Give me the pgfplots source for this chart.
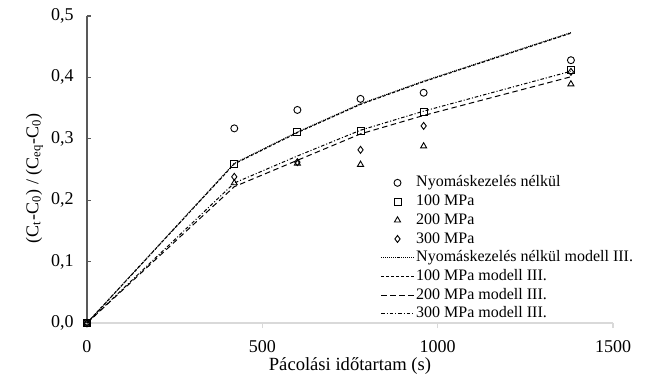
\documentclass[border=0pt]{standalone}
\usepackage{fontspec}
\setmainfont{Liberation Serif}
\usepackage{pgfplots}
\pgfplotsset{compat=1.18}
\definecolor{yax}{HTML}{595959}
\definecolor{xax}{HTML}{D9D9D9}
\begin{document}
\fontsize{9bp}{11bp}\selectfont
\begin{tikzpicture}[font=\fontsize{9bp}{11bp}\selectfont]
\begin{axis}[
  scale only axis,
  width=263bp, height=153.5bp,
  xmin=0, xmax=1500, ymin=0, ymax=0.5,
  axis x line*=bottom, axis y line*=left,
  x axis line style={draw=xax, line width=0.6bp},
  y axis line style={draw=yax, line width=0.6bp},
  xtick={0,500,1000,1500},
  ytick={0,0.1,0.2,0.3,0.4,0.5},
  xtick style={draw=xax, line width=0.6bp},
  ytick style={draw=yax, line width=0.6bp},
  x tick style={/pgfplots/major tick length=2.5bp},
  y tick style={/pgfplots/major tick length=2bp},
  xtick align=outside, ytick align=inside,
  minor tick num=0,
  /pgf/number format/assume math mode=true,
  /pgf/number format/1000 sep={},
  yticklabel style={xshift=-3.5bp, /pgf/number format/.cd, use comma, fixed, fixed zerofill, precision=1},
  xticklabel style={yshift=-1.5bp},
  scaled y ticks=false,
  xlabel={Pácolási időtartam (s)},
  ylabel={(C\textsubscript{t}-C\textsubscript{0}) / (C\textsubscript{eq}-C\textsubscript{0})},
  xlabel style={at={(axis description cs:0.5,-0.14)}, anchor=center, font=\fontsize{9.3bp}{11bp}\selectfont},
  ylabel style={at={(axis description cs:-0.1,0.472)}, anchor=center},
  clip=false,
  legend cell align=left,
  legend image code/.code={\path (0bp,-1bp) (16.5bp,1bp);
    \draw[mark repeat=2,mark phase=2,#1] plot coordinates {(0bp,0bp) (8.25bp,0bp) (16.5bp,0bp)};},
  legend style={draw=none, fill=none, at={(axis cs:837,0.2435)}, anchor=north west,
    inner sep=0pt, outer sep=0pt, row sep=0pt,
    font=\fontsize{8bp}{9.5bp}\selectfont,
    nodes={inner sep=0.85bp, text height=5.9bp, text depth=1.75bp}},
  mark size=1.75bp,
  every axis plot/.append style={line width=0.5bp, black},
]
\addplot[only marks, mark=o, mark options={line width=0.45bp}] coordinates {(0,0) (420,0.317) (600,0.347) (780,0.365) (960,0.375) (1380,0.428)};
\addlegendentry{Nyomáskezelés nélkül}
\addplot[only marks, mark=square, mark options={line width=0.45bp}] coordinates {(0,0) (420,0.259) (600,0.311) (780,0.313) (960,0.344) (1380,0.412)};
\addlegendentry{100 MPa}
\addplot[only marks, mark=triangle, mark options={line width=0.45bp}] coordinates {(0,0) (420,0.228) (600,0.260) (780,0.258) (960,0.288) (1380,0.389)};
\addlegendentry{200 MPa}
\addplot[only marks, mark=diamond, mark options={line width=0.45bp}] coordinates {(0,0) (420,0.238) (600,0.262) (780,0.282) (960,0.321) (1380,0.409)};
\addlegendentry{300 MPa}
\addplot[mark=none, dash pattern=on 0.5bp off 0.5bp] coordinates {(0,0) (420,0.260) (600,0.311) (780,0.357) (960,0.394) (1380,0.473)};
\addlegendentry{Nyomáskezelés nélkül modell III.}
\addplot[mark=none, dash pattern=on 1.5bp off 1bp] coordinates {(0,0) (420,0.259) (600,0.310) (780,0.356) (960,0.393) (1380,0.472)};
\addlegendentry{100 MPa modell III.}
\addplot[mark=none, dash pattern=on 2.75bp off 1.75bp] coordinates {(0,0) (420,0.222) (600,0.265) (780,0.308) (960,0.338) (1380,0.401)};
\addlegendentry{200 MPa modell III.}
\addplot[mark=none, dash pattern=on 1.75bp off 1bp on 0.5bp off 1bp] coordinates {(0,0) (420,0.228) (600,0.272) (780,0.314) (960,0.345) (1380,0.410)};
\addlegendentry{300 MPa modell III.}
\end{axis}
\path (-43.5bp,-30bp) rectangle (282bp,161.5bp);
\end{tikzpicture}
\end{document}
